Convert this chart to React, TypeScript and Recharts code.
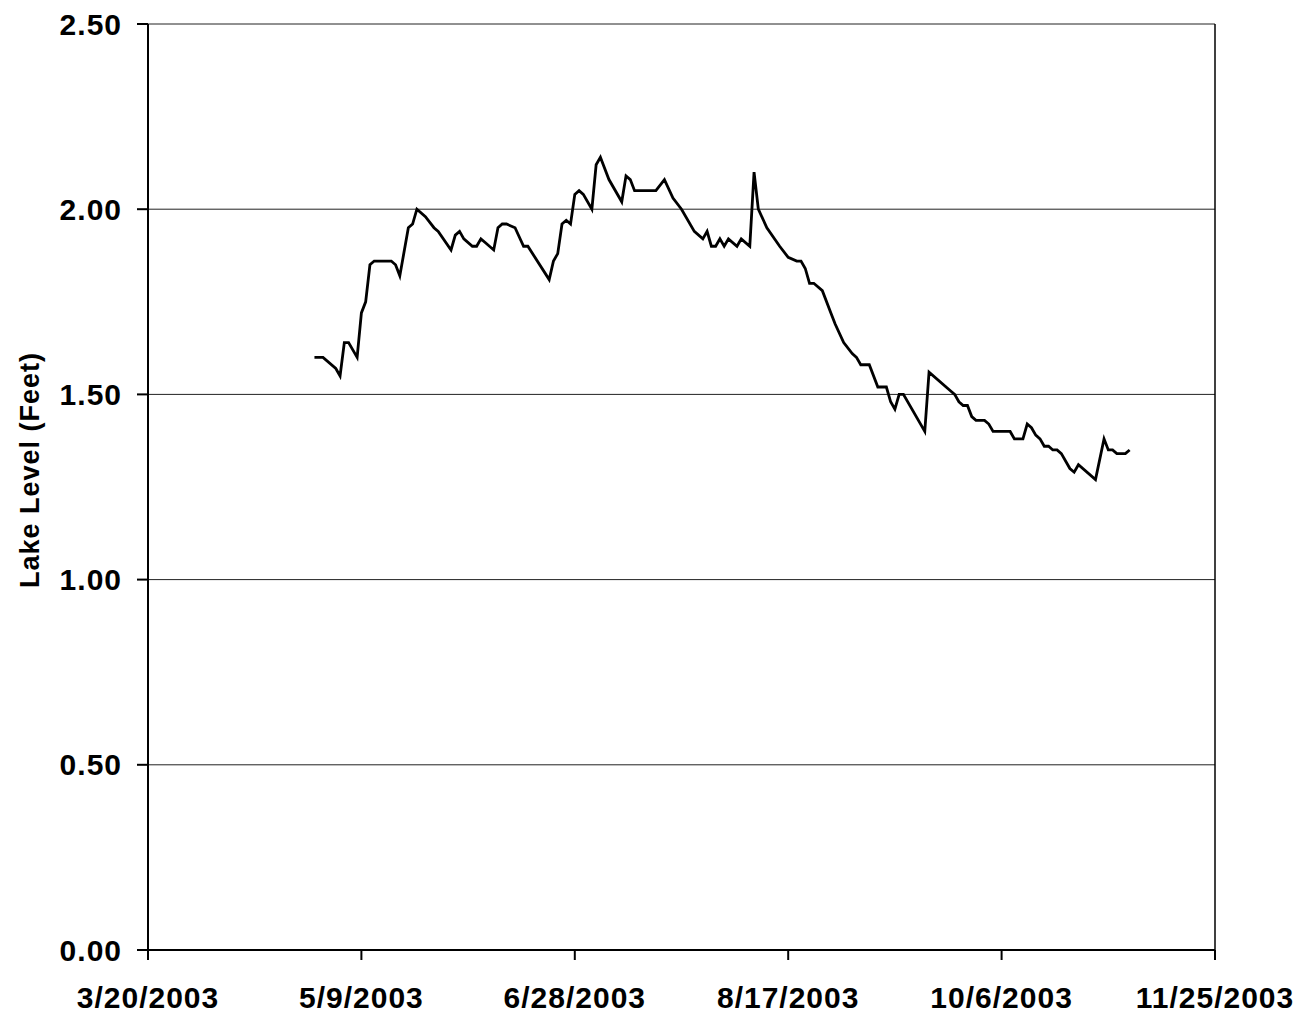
import React from "react";
import { LineChart, Line, XAxis, YAxis, CartesianGrid, ReferenceLine } from "recharts";

const dates = [
  "4/28/2003", "4/30/2003", "5/3/2003", "5/4/2003", "5/5/2003", "5/6/2003", "5/8/2003", "5/9/2003",
  "5/10/2003", "5/11/2003", "5/12/2003", "5/16/2003", "5/17/2003", "5/18/2003", "5/20/2003", "5/21/2003",
  "5/22/2003", "5/24/2003", "5/26/2003", "5/27/2003", "5/30/2003", "5/31/2003", "6/1/2003", "6/2/2003",
  "6/4/2003", "6/5/2003", "6/6/2003", "6/7/2003", "6/9/2003", "6/10/2003", "6/11/2003", "6/12/2003",
  "6/14/2003", "6/16/2003", "6/17/2003", "6/22/2003", "6/23/2003", "6/24/2003", "6/25/2003", "6/26/2003",
  "6/27/2003", "6/28/2003", "6/29/2003", "6/30/2003", "7/2/2003", "7/3/2003", "7/4/2003", "7/6/2003",
  "7/9/2003", "7/10/2003", "7/11/2003", "7/12/2003", "7/17/2003", "7/19/2003", "7/21/2003", "7/23/2003",
  "7/26/2003", "7/28/2003", "7/29/2003", "7/30/2003", "7/31/2003", "8/1/2003", "8/2/2003", "8/3/2003",
  "8/5/2003", "8/6/2003", "8/8/2003", "8/9/2003", "8/10/2003", "8/12/2003", "8/15/2003", "8/17/2003",
  "8/19/2003", "8/20/2003", "8/21/2003", "8/22/2003", "8/23/2003", "8/25/2003", "8/27/2003", "8/28/2003",
  "8/30/2003", "9/1/2003", "9/2/2003", "9/3/2003", "9/5/2003", "9/7/2003", "9/9/2003", "9/10/2003",
  "9/11/2003", "9/12/2003", "9/13/2003", "9/18/2003", "9/19/2003", "9/24/2003", "9/25/2003", "9/26/2003",
  "9/27/2003", "9/28/2003", "9/29/2003", "9/30/2003", "10/2/2003", "10/3/2003", "10/4/2003", "10/8/2003",
  "10/9/2003", "10/11/2003", "10/12/2003", "10/13/2003", "10/14/2003", "10/15/2003", "10/16/2003", "10/17/2003",
  "10/18/2003", "10/19/2003", "10/20/2003", "10/22/2003", "10/23/2003", "10/24/2003", "10/28/2003", "10/30/2003",
  "10/31/2003", "11/1/2003", "11/2/2003", "11/4/2003", "11/5/2003",
];

const levels = [
  1.60, 1.60, 1.57, 1.55, 1.64, 1.64, 1.60, 1.72,
  1.75, 1.85, 1.86, 1.86, 1.85, 1.82, 1.95, 1.96,
  2.00, 1.98, 1.95, 1.94, 1.89, 1.93, 1.94, 1.92,
  1.90, 1.90, 1.92, 1.91, 1.89, 1.95, 1.96, 1.96,
  1.95, 1.90, 1.90, 1.81, 1.86, 1.88, 1.96, 1.97,
  1.96, 2.04, 2.05, 2.04, 2.00, 2.12, 2.14, 2.08,
  2.02, 2.09, 2.08, 2.05, 2.05, 2.08, 2.03, 2.00,
  1.94, 1.92, 1.94, 1.90, 1.90, 1.92, 1.90, 1.92,
  1.90, 1.92, 1.90, 2.10, 2.00, 1.95, 1.90, 1.87,
  1.86, 1.86, 1.84, 1.80, 1.80, 1.78, 1.72, 1.69,
  1.64, 1.61, 1.60, 1.58, 1.58, 1.52, 1.52, 1.48,
  1.46, 1.50, 1.50, 1.40, 1.56, 1.51, 1.50, 1.48,
  1.47, 1.47, 1.44, 1.43, 1.43, 1.42, 1.40, 1.40,
  1.38, 1.38, 1.42, 1.41, 1.39, 1.38, 1.36, 1.36,
  1.35, 1.35, 1.34, 1.30, 1.29, 1.31, 1.27, 1.38,
  1.35, 1.35, 1.34, 1.34, 1.35,
];

const xTickLabels = ["3/20/2003", "5/9/2003", "6/28/2003", "8/17/2003", "10/6/2003", "11/25/2003"];
const yTicks = [0, 0.5, 1.0, 1.5, 2.0, 2.5];
const yAxisTitle = "Lake Level (Feet)";

const parseDate = (s: string) => {
  const [m, d, y] = s.split("/").map(Number);
  return Date.UTC(y, m - 1, d);
};
const formatDate = (t: number) => {
  const dt = new Date(t);
  return `${dt.getUTCMonth() + 1}/${dt.getUTCDate()}/${dt.getUTCFullYear()}`;
};

const data = dates.map((d, i) => ({ t: parseDate(d), level: levels[i] }));
const xTicks = xTickLabels.map(parseDate);
const xDomain = [xTicks[0], xTicks[xTicks.length - 1]];

const font = "'Liberation Sans', Arial, sans-serif";
const tickStyle = { fill: "#000", fontSize: 30, fontWeight: "bold", fontFamily: font, letterSpacing: 1 };

const YTitle = () => (
  <text
    x={30}
    y={470}
    transform="rotate(-90 30 470)"
    textAnchor="middle"
    dominantBaseline="central"
    style={{ fill: "#000", fontSize: 27, fontWeight: "bold", fontFamily: font, letterSpacing: 1 }}
  >
    {yAxisTitle}
  </text>
);

export default function App() {
  return (
    <div style={{ position: "absolute", left: 0, top: 0, background: "#fff" }}>
      <LineChart
        width={1302}
        height={1016}
        data={data}
        margin={{ top: 24, right: 87, bottom: 16, left: 48 }}
      >
        <CartesianGrid vertical={false} stroke="#222" strokeWidth={1} />
        <XAxis
          dataKey="t"
          type="number"
          domain={xDomain}
          ticks={xTicks}
          tickFormatter={formatDate}
          height={50}
          stroke="#000"
          strokeWidth={2}
          tickSize={10}
          tickMargin={27}
          tick={tickStyle}
          interval={0}
        />
        <YAxis
          type="number"
          domain={[0, 2.5]}
          ticks={yTicks}
          tickFormatter={(v: number) => v.toFixed(2)}
          width={100}
          stroke="#000"
          strokeWidth={2}
          tickSize={11}
          tickMargin={15}
          tick={tickStyle}
          interval={0}
          label={<YTitle />}
        />
        <ReferenceLine x={xDomain[1]} stroke="#000" strokeWidth={1.5} />
        <Line
          type="linear"
          dataKey="level"
          stroke="#000"
          strokeWidth={2.8}
          dot={false}
          isAnimationActive={false}
        />
      </LineChart>
    </div>
  );
}
